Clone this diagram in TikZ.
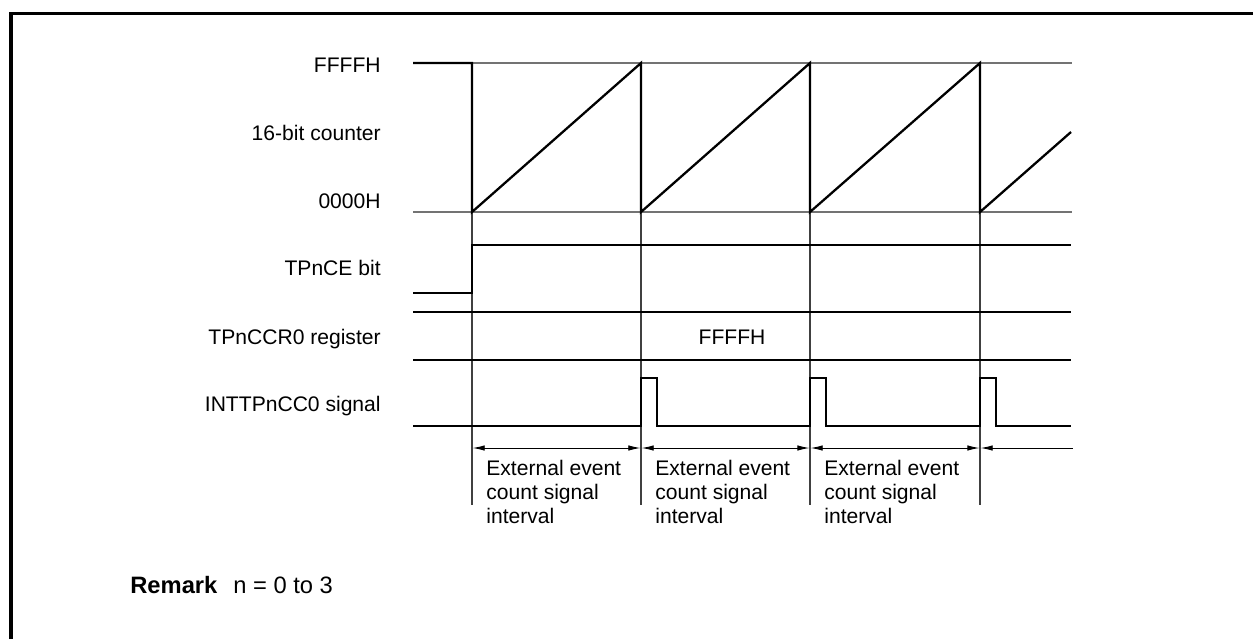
\documentclass[tikz,border=0pt]{standalone}
\usepackage{fontspec}
\setmainfont{Liberation Sans}
\usetikzlibrary{arrows.meta,positioning}

\begin{document}
\begin{tikzpicture}[x=0.02cm, y=-0.02cm,
  lbl/.style={anchor=base east, inner sep=0pt, font=\fontsize{12}{14}\selectfont},
  txt/.style={anchor=north west, inner sep=0pt, align=left, font=\fontsize{12}{13.6}\selectfont},
  wave/.style={line width=1.3pt, line join=miter},
  guide/.style={line width=0.6pt, black!55},
  evspan/.style={{Latex[length=2.4mm,width=1.1mm]}-{Latex[length=2.4mm,width=1.1mm]}, line width=0.5pt, shorten <=0.4pt, shorten >=0.4pt}
]
  \useasboundingbox (0,0) rectangle (1253,639);
  \draw[line width=2.2pt] (11,639) -- (11,13.5) -- (1253,13.5);

  % signal names
  \node[lbl] (lffff) at (381,72) {FFFFH};
  \node[lbl] (lcnt) at (381,140) {16-bit counter};
  \node[lbl] (lzero) at (381,208.5) {0000H};
  \node[lbl] (lce) at (381,275.5) {TPnCE bit};
  \node[lbl] (lccr) at (381,344.5) {TPnCCR0 register};
  \node[lbl] (lint) at (381,411.5) {INTTPnCC0 signal};

  % edges
  \coordinate (t0) at (472,212);
  \coordinate (t1) at (641,212);
  \coordinate (t2) at (810,212);
  \coordinate (t3) at (980,212);

  \draw[guide] (472,63) -- (1072,63);
  \draw[guide] (413,212) -- (1072,212);
  \foreach \t in {t0,t1,t2,t3}
    \draw[guide, black!75] (\t) -- ++(0,293);

  % 16-bit counter
  \draw[wave] (413,63) -- (472,63) -- (t0) -- (641,63) -- (t1) -- (810,63) -- (t2) -- (980,63) -- (t3) -- (1071,132);
  % TPnCE bit
  \draw[wave] (413,293) -- (472,293) -- (472,245) -- (1071,245);
  % TPnCCR0 register
  \draw[wave] (413,312) -- (1071,312);
  \draw[wave] (413,360) -- (1071,360);
  \node[anchor=base, inner sep=0pt, font=\fontsize{12}{14}\selectfont] (ccrval) at (732,344.5) {FFFFH};
  % INTTPnCC0 signal
  \draw[wave] (413,426) -- (641,426) -- (641,378) -- (657,378) -- (657,426) -- (810,426) -- (810,378) -- (826,378) -- (826,426)
    -- (980,426) -- (980,378) -- (996,378) -- (996,426) -- (1071,426);

  % intervals
  \coordinate (a0) at (472,448);
  \coordinate (a1) at (641,448);
  \coordinate (a2) at (810,448);
  \coordinate (a3) at (980,448);
  \coordinate (aend) at (1073,448);
  \draw[evspan] (a0) -- (a1);
  \draw[evspan] (a1) -- (a2);
  \draw[evspan] (a2) -- (a3);
  \draw[{Latex[length=2.4mm,width=1.1mm]}-, line width=0.5pt, shorten <=0.4pt] (a3) -- (aend);

  \node[txt] (ev1) at (486,460) {External event\\count signal\\interval};
  \node[txt] (ev2) at (655,460) {External event\\count signal\\interval};
  \node[txt] (ev3) at (824,460) {External event\\count signal\\interval};

  \node[anchor=base west, inner sep=0pt, font=\fontsize{13.5}{16}\selectfont\bfseries] (rmk) at (130,593) {Remark};
  \node[anchor=base west, inner sep=0pt, font=\fontsize{13.5}{16}\selectfont] (rmkn) at (233,593) {n = 0 to 3};
\end{tikzpicture}
\end{document}
